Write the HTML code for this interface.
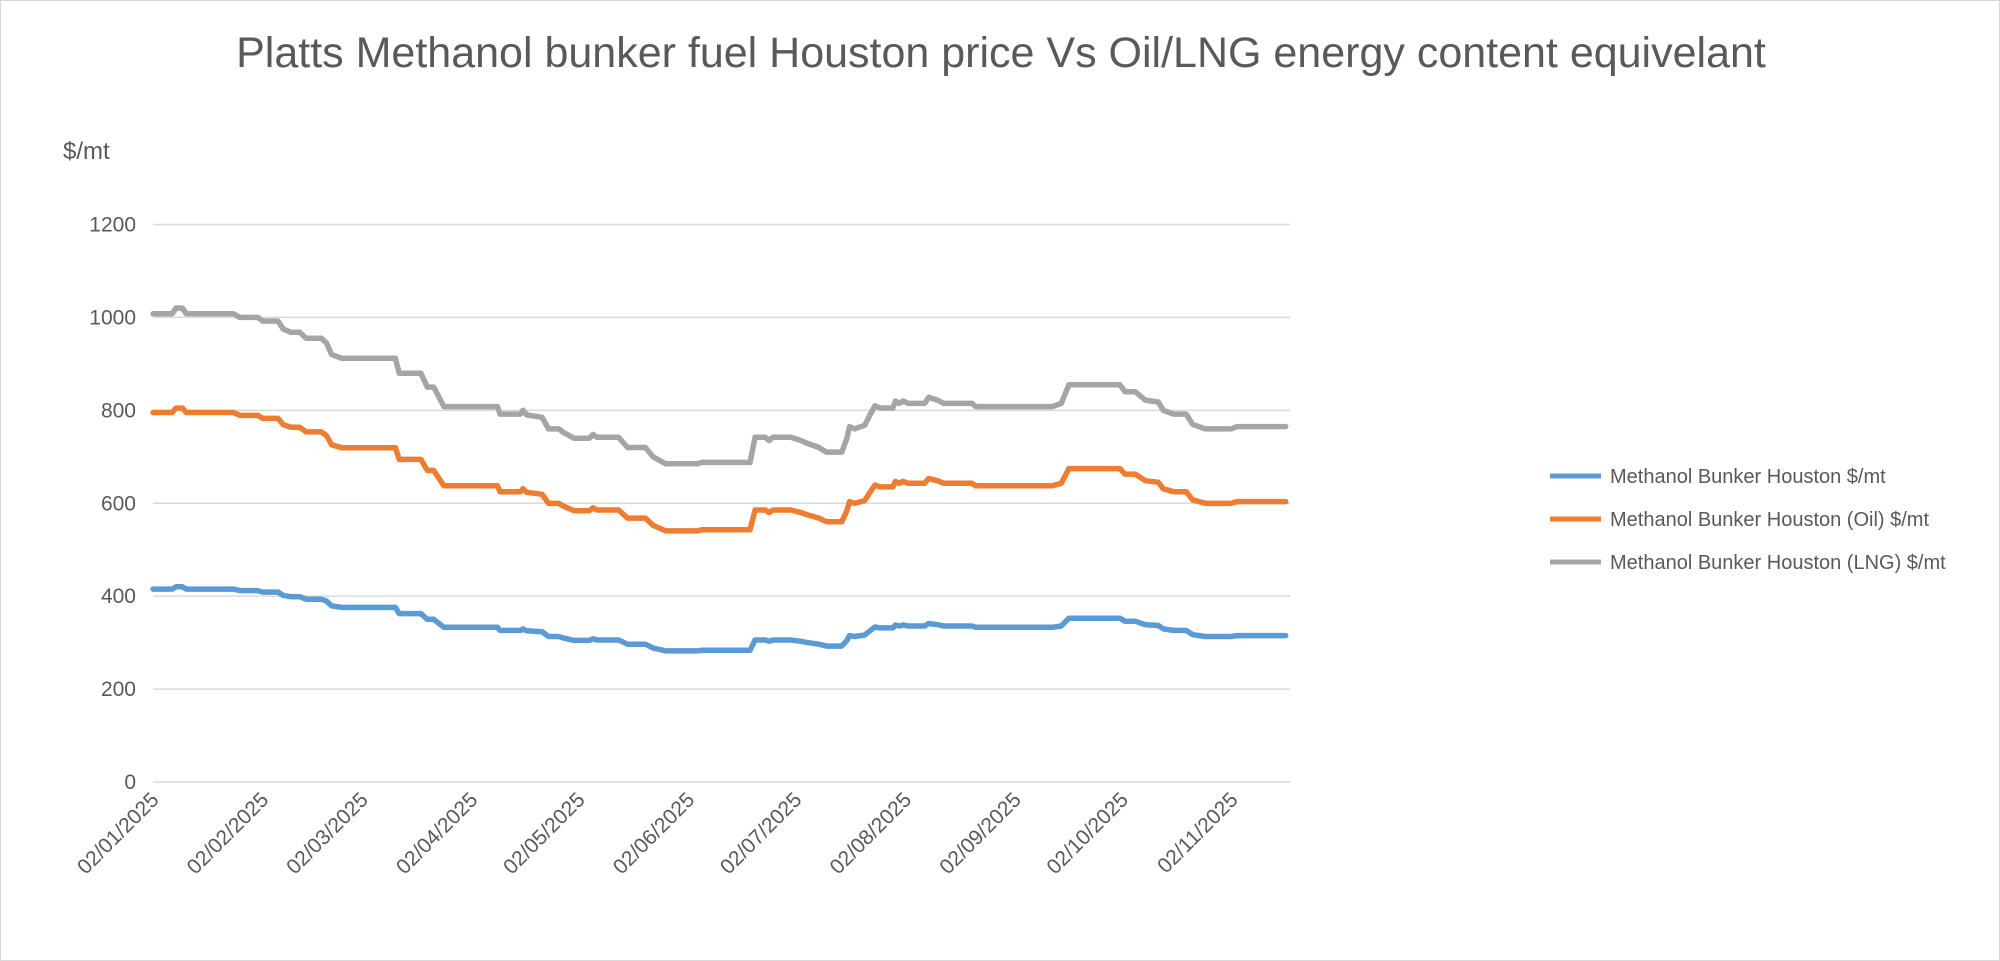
<!DOCTYPE html>
<html><head><meta charset="utf-8"><style>
html,body{margin:0;padding:0;background:#fff;}
svg{display:block;font-family:"Liberation Sans",Calibri,sans-serif;}
</style></head><body>
<svg id="c" width="2000" height="961" viewBox="0 0 2000 961" xmlns="http://www.w3.org/2000/svg">
<rect x="0.5" y="0.5" width="1999" height="960" fill="#fff" stroke="#d9d9d9"/>
<text x="1001" y="67" text-anchor="middle" font-size="43" fill="#595959">Platts Methanol bunker fuel Houston price Vs Oil/LNG energy content equivelant</text>
<text x="63" y="159" font-size="24" fill="#595959">$/mt</text>
<g id="grid"></g>
<g id="series"></g>
<g id="legend" font-size="20" fill="#595959">
<line x1="1550" y1="476" x2="1601" y2="476" stroke="#5b9bd5" stroke-width="5"/>
<text x="1610" y="483">Methanol Bunker Houston $/mt</text>
<line x1="1550" y1="519" x2="1601" y2="519" stroke="#ed7d31" stroke-width="5"/>
<text x="1610" y="526">Methanol Bunker Houston (Oil) $/mt</text>
<line x1="1550" y1="562" x2="1601" y2="562" stroke="#a5a5a5" stroke-width="5"/>
<text x="1610" y="569">Methanol Bunker Houston (LNG) $/mt</text>
</g>
</svg>
<script>
var NS="http://www.w3.org/2000/svg";
var S=1.2755;
function Y(v){return 782-v*(557.5/1200);}
var g=document.getElementById('grid');
for(var v=0;v<=1200;v+=200){
 var l=document.createElementNS(NS,'line');
 l.setAttribute('x1',153);l.setAttribute('x2',1290);l.setAttribute('y1',Y(v));l.setAttribute('y2',Y(v));
 l.setAttribute('stroke','#d9d9d9');l.setAttribute('stroke-width','1.5');g.appendChild(l);
 var t=document.createElementNS(NS,'text');
 t.setAttribute('x',136);t.setAttribute('y',Y(v)+7);t.setAttribute('text-anchor','end');
 t.setAttribute('font-size','21');t.setAttribute('fill','#595959');t.textContent=v;g.appendChild(t);
}
var ticks=[120,206,284,370,454,540,624,710,796,880,966];
var months=['01','02','03','04','05','06','07','08','09','10','11'];
for(var i=0;i<ticks.length;i++){
 var x=ticks[i]*S;
 var t=document.createElementNS(NS,'text');
 t.setAttribute('transform','translate('+(x+7)+',801) rotate(-45)');
 t.setAttribute('text-anchor','end');t.setAttribute('font-size','21');t.setAttribute('fill','#595959');
 t.textContent='02/'+months[i]+'/2025';g.appendChild(t);
}
var lng=[[120,1008],[135,1008],[138,1020],[143,1020],[146,1008],[183,1008],[188,1000],[202,1000],[206,992],[218,992],[222,975],[228,968],[235,968],[240,955],[252,955],[256,945],[260,920],[268,912],[310,912],[313,880],[330,880],[335,850],[340,850],[348,808],[390,808],[392,792],[408,792],[410,800],[413,790],[425,785],[430,760],[438,760],[442,752],[450,740],[462,740],[465,748],[468,742],[485,742],[492,720],[506,720],[512,700],[522,685],[547,685],[550,688],[588,688],[592,742],[600,742],[603,735],[606,742],[620,742],[628,735],[632,730],[642,720],[648,710],[660,710],[664,740],[666,765],[670,760],[678,768],[682,790],[686,810],[690,805],[700,805],[702,820],[705,815],[708,820],[712,815],[725,815],[728,828],[735,822],[740,815],[762,815],[765,808],[825,808],[832,815],[838,855],[878,855],[882,840],[890,840],[898,822],[908,818],[912,800],[920,792],[930,792],[935,770],[945,760],[965,760],[970,765],[1008,765]];
function add(f,col){
 var d='';
 for(var i=0;i<lng.length;i++){d+=(i?'L':'M')+(lng[i][0]*S).toFixed(1)+' '+Y(lng[i][1]*f).toFixed(1);}
 var p=document.createElementNS(NS,'path');
 p.setAttribute('d',d);p.setAttribute('fill','none');p.setAttribute('stroke',col);
 p.setAttribute('stroke-width','5.5');p.setAttribute('stroke-linejoin','round');p.setAttribute('stroke-linecap','round');
 document.getElementById('series').appendChild(p);
}
add(0.412,'#5b9bd5');
add(0.789,'#ed7d31');
add(1,'#a5a5a5');
</script>
</body></html>
